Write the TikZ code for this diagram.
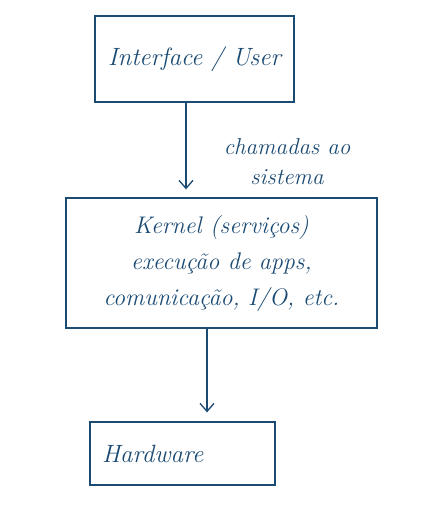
\documentclass[tikz,border=0pt]{standalone}
\usepackage{tikz}
\usetikzlibrary{arrows.meta}
\definecolor{ink}{HTML}{1B4A72}
\tikzset{>={Straight Barb[length=8pt,width=14pt]}}
\tikzstyle{box}=[rectangle,draw=ink,line width=1.3pt,text=ink,font=\fontsize{25}{36}\selectfont\itshape]
\tikzstyle{flow}=[->,draw=ink,line width=1.3pt]
\tikzstyle{note}=[text=ink,font=\fontsize{23}{30}\selectfont\itshape,align=center]

\begin{document}
\begin{tikzpicture}[x=1pt,y=-1pt]
	\useasboundingbox (0,0) rectangle (422,524);

	\node[box, minimum width=199pt, minimum height=86pt] (user) at (194.5,59) {Interface / User};
	\node[box, minimum width=311pt, minimum height=130pt, align=center, font=\fontsize{24}{36}\selectfont\itshape] (kernel) at (221.5,263)
		{Kernel (serviços)\\execução de apps,\\comunicação, I/O, etc.};
	\node[box, minimum width=185pt, minimum height=63pt, inner sep=12pt, text width=161pt, align=left] (hw) at (182.5,453.5) {Hardware};

	\draw[flow, shorten >=8pt] ([xshift=-8.5pt]user.south) -- ([xshift=-8.5pt]user.south |- kernel.north);
	\node[note] (calls) at (287,162) {chamadas ao\\sistema};

	\draw[flow, shorten >=9pt] ([xshift=-14.5pt]kernel.south) -- ([xshift=-14.5pt]kernel.south |- hw.north);
\end{tikzpicture}
\end{document}
